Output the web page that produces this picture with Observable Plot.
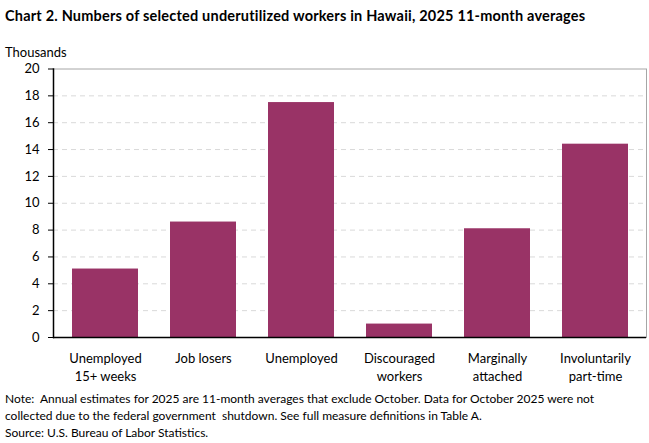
<!DOCTYPE html>
<html>
<head>
<meta charset="utf-8">
<script src="https://cdn.jsdelivr.net/npm/d3@7"></script>
<script src="https://cdn.jsdelivr.net/npm/@observablehq/plot@0.6"></script>
<style>
  html, body { margin: 0; padding: 0; background: #fff; }
  body { width: 649px; height: 443px; position: relative; overflow: hidden; font-family: Lato, "Open Sans", sans-serif; color: #000; }
  .t { position: absolute; left: 5px; white-space: nowrap; z-index: 2; }
  #title { top: 7px; font-weight: bold; font-size: 14.5px; letter-spacing: 0.2px; }
  #units { top: 44px; font-size: 13px; }
  #chart { position: absolute; left: 0; top: 56px; z-index: 1; }
  #note { top: 390px; font-size: 12px; line-height: 17px; }
</style>
</head>
<body>
<div class="t" id="title">Chart 2. Numbers of selected underutilized workers in Hawaii, 2025 11-month averages</div>
<div class="t" id="units">Thousands</div>
<div id="chart"></div>
<div class="t" id="note">Note:&nbsp; Annual estimates for 2025 are 11-month averages that exclude October. Data for October 2025 were not<br>collected due to the federal government&nbsp; shutdown. See full measure definitions in Table A.<br>Source: U.S. Bureau of Labor Statistics.</div>
<script>
const categories = ["Unemployed\n15+ weeks", "Job losers", "Unemployed", "Discouraged\nworkers", "Marginally\nattached", "Involuntarily\npart-time"];
const values = [5.1, 8.6, 17.5, 1.0, 8.1, 14.4];
const yTicks = [0, 2, 4, 6, 8, 10, 12, 14, 16, 18, 20];
const gridTicks = [2, 4, 6, 8, 10, 12, 14, 16, 18];

const data = categories.map((c, i) => ({category: c, value: values[i]}));

const chart = Plot.plot({
  width: 649,
  height: 334,
  marginLeft: 53,
  marginRight: 3,
  marginTop: 12.5,
  marginBottom: 53,
  style: {fontFamily: "Lato, 'Open Sans', sans-serif", fontSize: "13px", color: "#000", background: "transparent", overflow: "visible"},
  x: {domain: categories, paddingInner: 0.33, paddingOuter: 0.167, label: null},
  y: {domain: [0, 20], label: null},
  marks: [
    Plot.ruleY(gridTicks, {stroke: "#d9d9d9", strokeDasharray: "5,4", strokeWidth: 1}),
    Plot.ruleY([20], {stroke: "#a6a6a6", strokeWidth: 1}),
    Plot.barY(data, {x: "category", y: "value", fill: "#993366"}),
    Plot.axisY({ticks: yTicks, tickSize: 5, tickPadding: 9, tickFormat: d => String(d), stroke: "#000", fill: "#000"}),
    Plot.axisX({tickSize: 0, tickPadding: 13, lineHeight: 1.35, fill: "#000"}),
    Plot.ruleY([0], {stroke: "#000", strokeWidth: 1.5}),
    Plot.frame({anchor: "left", stroke: "#000", strokeWidth: 1.5}),
    Plot.frame({anchor: "right", stroke: "#a6a6a6", strokeWidth: 1})
  ]
});
document.getElementById("chart").appendChild(chart);
</script>
</body>
</html>
